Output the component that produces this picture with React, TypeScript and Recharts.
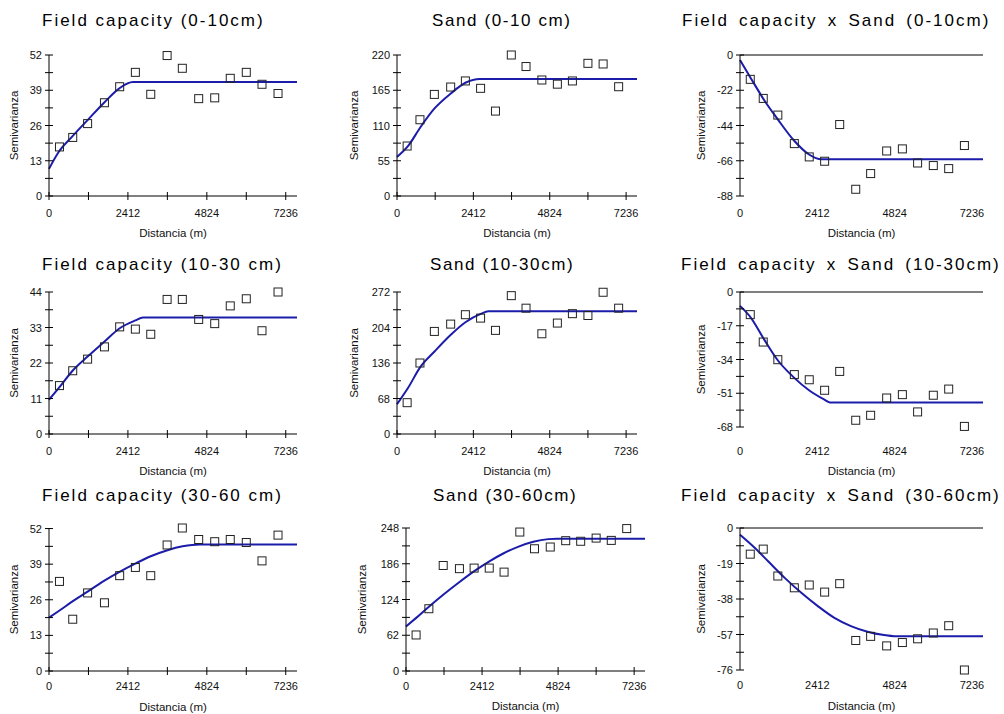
import React from "react";
import { ComposedChart, Line, Scatter, XAxis, YAxis } from "recharts";

const LINE_COLOR = "#1c1caa";
const POINT_COLOR = "#222222";
const FONT = "'Liberation Sans', Arial, sans-serif";

// lag centres (m), shared by all nine semivariograms
const lagDistances = [320, 725, 1180, 1695, 2160, 2640, 3110, 3610, 4075, 4575, 5065, 5540, 6030, 6510, 7000];
const distanceTicks = [0, 1206, 2412, 3618, 4824, 6030, 7236];
const distanceLabels = [0, 2412, 4824, 7236];
const maxDistance = 7580;

// experimental semivariance per lag
const fc010 = [18.1, 21.6, 26.7, 34.4, 40.3, 45.6, 37.5, 51.8, 47.1, 35.9, 36.2, 43.4, 45.6, 41.2, 37.8];
const sand010 = [78, 119, 158.5, 170, 179.5, 168, 132.5, 220, 202, 181, 174.5, 179.5, 207, 206, 170.5];
const cross010 = [-15.2, -27.1, -37.5, -55.3, -63.6, -66.3, -43.4, -83.8, -74, -59.9, -58.6, -67.4, -69, -70.9, -56.5];
const fc1030 = [15, 19.6, 23.2, 27, 33.2, 32.5, 30.9, 41.7, 41.7, 35.5, 34.2, 39.7, 41.9, 32, 44];
const sand1030 = [60, 136, 196.5, 210.5, 228.5, 222, 198.5, 265, 241, 192, 212.5, 230.5, 227, 271.5, 241];
const cross1030 = [-11.4, -25.2, -34.1, -41.6, -44.2, -49.5, -40, -64.6, -62.1, -53.4, -51.7, -60.4, -52, -48.9, -67.7];
const fc3060 = [32.7, 18.9, 28.5, 24.9, 34.8, 37.8, 34.8, 46, 52.2, 48, 47.2, 48, 46.9, 40.2, 49.6];
const sand3060 = [62.5, 108, 183, 177.5, 178.5, 178.5, 171.5, 241, 212, 215, 226, 225, 230.5, 226.5, 247];
const cross3060 = [-14, -11.3, -25.7, -32, -30.5, -34.3, -29.8, -60.2, -58, -63.1, -61.3, -59.3, -56.2, -52.3, -76];

// fitted model curves
const fc010ModelD = [0, 300, 700, 1180, 1690, 2150, 2565, 7580];
const fc010ModelG = [10, 16.3, 21.8, 28, 34.5, 39.7, 42, 42];
const sand010ModelD = [0, 346, 734, 1185, 1699, 2161, 2620, 7580];
const sand010ModelG = [61, 77.7, 106.9, 136.6, 160, 176.7, 182.5, 182.5];
const cross010ModelD = [0, 342, 756, 1159, 1677, 2153, 2535, 7580];
const cross010ModelG = [-3.1, -14.6, -28.2, -39.6, -53.2, -62.1, -65.1, -65.1];
const fc1030ModelD = [0, 320, 720, 1180, 1690, 2150, 2640, 2870, 7580];
const fc1030ModelG = [10.6, 14.5, 19.6, 24, 28.6, 32.7, 35.2, 36.1, 36.1];
const sand1030ModelD = [0, 346, 734, 1185, 1699, 2161, 2643, 2885, 7580];
const sand1030ModelG = [57, 88, 128, 158, 190, 214, 230, 234.9, 234.9];
const cross1030ModelD = [0, 342, 756, 1159, 1677, 2153, 2608, 2800, 7580];
const cross1030ModelG = [-7, -13, -24, -34, -43, -49.5, -54, -55.6, -55.6];
const fc3060ModelD = [0, 310, 718, 1180, 1693, 2155, 2637, 3109, 3622, 4083, 4617, 7580];
const fc3060ModelG = [19.5, 22, 25.4, 29, 33, 36.2, 39.2, 41.9, 44.1, 45.5, 46.2, 46.2];
const sand3060ModelD = [0, 342, 735, 1170, 1666, 2153, 2618, 3084, 3550, 4036, 4513, 4792, 7580];
const sand3060ModelG = [77, 93, 111.8, 131.7, 153, 172.7, 189.4, 203.8, 215.3, 224, 228.7, 229.5, 229.5];
const cross3060ModelD = [0, 465, 878, 1395, 1912, 2428, 2945, 3461, 3978, 4494, 4804, 7580];
const cross3060ModelG = [-3.6, -10.7, -17.8, -26.7, -34.7, -41.8, -48.1, -52.5, -55.5, -57.3, -57.9, -57.9];

// y axis ticks (minor ticks between labelled ones)
const fc010Ticks = [0, 6.5, 13, 19.5, 26, 32.5, 39, 45.5, 52];
const sand010Ticks = [0, 27.5, 55, 82.5, 110, 137.5, 165, 192.5, 220];
const cross010Ticks = [-88, -77, -66, -55, -44, -33, -22, -11, 0];
const fc1030Ticks = [0, 5.5, 11, 16.5, 22, 27.5, 33, 38.5, 44];
const sand1030Ticks = [0, 34, 68, 102, 136, 170, 204, 238, 272];
const cross1030Ticks = [-68, -59.5, -51, -42.5, -34, -25.5, -17, -8.5, 0];
const fc3060Ticks = [0, 6.5, 13, 19.5, 26, 32.5, 39, 45.5, 52];
const sand3060Ticks = [0, 31, 62, 93, 124, 155, 186, 217, 248];
const cross3060Ticks = [-76, -66.5, -57, -47.5, -38, -28.5, -19, -9.5, 0];

type Panel = {
  title: string;
  titleX: number;
  titleY: number;
  gamma: number[];
  modelD: number[];
  modelG: number[];
  yTicks: number[];
  left: number;
  top: number;
  plotW: number;
  plotH: number;
  yW: number;
  topAxis: boolean;
  tickBaseline: number;
  labelCenter: number;
  letterSpacing: number;
  wordSpacing: number;
};

const COL1 = { left: 49, plotW: 248, yW: 70, topAxis: false, letterSpacing: 2, wordSpacing: 0 };
const COL2 = { left: 397, plotW: 240, yW: 86, topAxis: false, letterSpacing: 1.6, wordSpacing: 0 };
const COL3 = { left: 740, plotW: 243, yW: 78, topAxis: true, letterSpacing: 2, wordSpacing: 3.5 };

const panels: Panel[] = [
  { ...COL1, title: "Field capacity (0-10cm)", titleX: 42, titleY: 12, gamma: fc010, modelD: fc010ModelD, modelG: fc010ModelG, yTicks: fc010Ticks, top: 55, plotH: 141, tickBaseline: 21, labelCenter: 37 },
  { ...COL2, title: "Sand (0-10 cm)", titleX: 432, titleY: 12, gamma: sand010, modelD: sand010ModelD, modelG: sand010ModelG, yTicks: sand010Ticks, top: 55, plotH: 141, tickBaseline: 21, labelCenter: 37 },
  { ...COL3, title: "Field capacity x Sand (0-10cm)", titleX: 682, titleY: 12, gamma: cross010, modelD: cross010ModelD, modelG: cross010ModelG, yTicks: cross010Ticks, top: 55, plotH: 141, tickBaseline: 21, labelCenter: 37 },
  { ...COL1, title: "Field capacity (10-30 cm)", titleX: 42, titleY: 256, gamma: fc1030, modelD: fc1030ModelD, modelG: fc1030ModelG, yTicks: fc1030Ticks, top: 292, plotH: 142, tickBaseline: 21, labelCenter: 37 },
  { ...COL2, title: "Sand (10-30cm)", titleX: 430, titleY: 256, gamma: sand1030, modelD: sand1030ModelD, modelG: sand1030ModelG, yTicks: sand1030Ticks, top: 292, plotH: 142, tickBaseline: 21, labelCenter: 37 },
  { ...COL3, title: "Field capacity x Sand (10-30cm)", titleX: 681, titleY: 256, gamma: cross1030, modelD: cross1030ModelD, modelG: cross1030ModelG, yTicks: cross1030Ticks, top: 292, plotH: 135, tickBaseline: 28, labelCenter: 44 },
  { ...COL1, title: "Field capacity (30-60 cm)", titleX: 42, titleY: 487, gamma: fc3060, modelD: fc3060ModelD, modelG: fc3060ModelG, yTicks: fc3060Ticks, top: 528, plotH: 143, tickBaseline: 19, labelCenter: 36 },
  { ...COL2, left: 406, plotW: 239, yW: 88, title: "Sand (30-60cm)", titleX: 433, titleY: 487, gamma: sand3060, modelD: sand3060ModelD, modelG: sand3060ModelG, yTicks: sand3060Ticks, top: 528, plotH: 143, tickBaseline: 19, labelCenter: 35 },
  { ...COL3, title: "Field capacity x Sand (30-60cm)", titleX: 681, titleY: 487, gamma: cross3060, modelD: cross3060ModelD, modelG: cross3060ModelG, yTicks: cross3060Ticks, top: 528, plotH: 142, tickBaseline: 19, labelCenter: 36 },
];

const TICK_FONT = 11;

function XTick(props: any) {
  const { x, y, payload, showLine, showLabel, baseline } = props;
  const labelled = distanceLabels.includes(payload.value);
  return (
    <g>
      {showLine && <line x1={x} x2={x} y1={y - 4} y2={y + 4} stroke="#000" />}
      {showLabel && labelled && (
        <text x={x} y={y + baseline} textAnchor="middle" fontSize={TICK_FONT} fontFamily={FONT} fill="#111">
          {payload.value}
        </text>
      )}
    </g>
  );
}

function YTick(props: any) {
  const { x, y, payload, index } = props;
  const labelled = index % 2 === 0;
  return (
    <g>
      <line x1={x - 4} x2={x + 4} y1={y} y2={y} stroke="#000" />
      {labelled && (
        <text x={x - 7} y={y + 4} textAnchor="end" fontSize={TICK_FONT} fontFamily={FONT} fill="#111">
          {payload.value}
        </text>
      )}
    </g>
  );
}

function SquareMark(props: any) {
  const { cx, cy } = props;
  if (cx == null || cy == null) return null;
  return <rect x={cx - 4} y={cy - 4} width={8} height={8} fill="none" stroke={POINT_COLOR} strokeWidth={1} />;
}

function SemivariogramPanel({ p }: { p: Panel }) {
  const points = lagDistances.map((d, i) => ({ d, g: p.gamma[i] }));
  const model = p.modelD.map((d, i) => ({ d, g: p.modelG[i] }));
  const topH = 10;
  const xH = p.labelCenter * 2;
  const right = 12;
  const width = p.yW + p.plotW + right;
  const height = topH + p.plotH + xH;
  const yDomain: [number, number] = [p.yTicks[0], p.yTicks[p.yTicks.length - 1]];
  return (
    <div style={{ position: "absolute", left: p.left - p.yW, top: p.top - topH }}>
      <ComposedChart
        width={width}
        height={height}
        margin={{ top: p.topAxis ? 0 : topH, right, bottom: 0, left: 0 }}
      >
        {p.topAxis && (
          <XAxis
            xAxisId="top"
            orientation="top"
            type="number"
            dataKey="d"
            domain={[0, maxDistance]}
            ticks={distanceTicks}
            interval={0}
            height={topH}
            tickSize={0}
            tickMargin={0}
            tickLine={false}
            axisLine={{ stroke: "#000" }}
            tick={<XTick showLine showLabel={false} baseline={0} />}
          />
        )}
        <XAxis
          xAxisId="x"
          type="number"
          dataKey="d"
          domain={[0, maxDistance]}
          ticks={distanceTicks}
          interval={0}
          height={xH}
          tickSize={0}
          tickMargin={0}
          tickLine={false}
          axisLine={p.topAxis ? false : { stroke: "#000" }}
          tick={<XTick showLine={!p.topAxis} showLabel baseline={p.tickBaseline} />}
          label={{
            value: "Distancia (m)",
            position: "center",
            fontSize: 11.5,
            fontFamily: FONT,
            fill: "#111",
          }}
        />
        <YAxis
          yAxisId="y"
          type="number"
          domain={yDomain}
          ticks={p.yTicks}
          interval={0}
          width={p.yW}
          tickSize={0}
          tickMargin={0}
          tickLine={false}
          axisLine={{ stroke: "#000" }}
          tick={<YTick />}
          label={{
            value: "Semivarianza",
            angle: -90,
            position: "center",
            fontSize: 11.5,
            fontFamily: FONT,
            fill: "#111",
          }}
        />
        <Line
          xAxisId="x"
          yAxisId="y"
          data={model}
          dataKey="g"
          type="monotone"
          stroke={LINE_COLOR}
          strokeWidth={2}
          dot={false}
          activeDot={false}
          isAnimationActive={false}
        />
        <Scatter
          xAxisId="x"
          yAxisId="y"
          data={points}
          dataKey="g"
          shape={<SquareMark />}
          isAnimationActive={false}
        />
      </ComposedChart>
    </div>
  );
}

export default function App() {
  return (
    <div style={{ position: "absolute", left: 0, top: 0, width: 1004, height: 714, background: "#fff", overflow: "hidden" }}>
      {panels.map((p) => (
        <div
          key={p.title + "-t"}
          style={{
            position: "absolute",
            left: p.titleX,
            top: p.titleY,
            fontFamily: FONT,
            fontSize: 17,
            lineHeight: "17px",
            letterSpacing: p.letterSpacing,
            wordSpacing: p.wordSpacing,
            color: "#000",
            whiteSpace: "nowrap",
          }}
        >
          {p.title}
        </div>
      ))}
      {panels.map((p) => (
        <SemivariogramPanel key={p.title} p={p} />
      ))}
    </div>
  );
}
